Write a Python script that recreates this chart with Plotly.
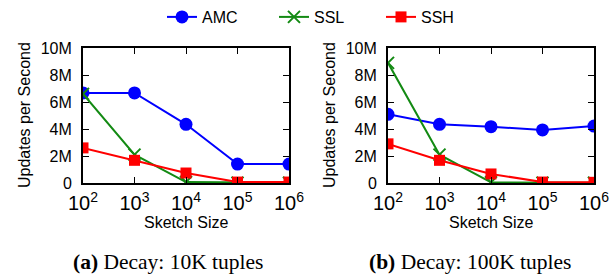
import plotly.graph_objects as go

sketch_sizes = [100, 1000, 10000, 100000, 1000000]
series_names = ["AMC", "SSL", "SSH"]
# values in millions of updates per second
amc_10k = [6.67, 6.67, 4.35, 1.40, 1.40]
ssl_10k = [6.6, 2.1, 0.07, 0.02, 0.02]
ssh_10k = [2.6, 1.68, 0.74, 0.07, 0.07]
amc_100k = [5.09, 4.35, 4.17, 3.93, 4.22]
ssl_100k = [8.9, 2.1, 0.05, 0.02, 0.02]
ssh_100k = [2.9, 1.68, 0.67, 0.07, 0.05]
ytick_vals = [0, 2, 4, 6, 8, 10]
ytick_text = ["0", "2M", "4M", "6M", "8M", "10M"]
x_title = "Sketch Size"
y_title = "Updates per Second"
captions = ["<b>(a)</b> Decay: 10K tuples", "<b>(b)</b> Decay: 100K tuples"]

colors = {"AMC": "#0000ff", "SSL": "#138a13", "SSH": "#ff0000"}
markers = {"AMC": dict(symbol="circle", size=13),
           "SSL": dict(symbol="x-thin", size=12),
           "SSH": dict(symbol="square", size=11)}
legend_ids = {"AMC": "legend", "SSL": "legend2", "SSH": "legend3"}
legend_left_px = {"AMC": 162, "SSL": 274, "SSH": 381}

SANS = "Liberation Sans"
FS = 16

fig = go.Figure()
panels = [(dict(AMC=amc_10k, SSL=ssl_10k, SSH=ssh_10k), "x", "y"),
          (dict(AMC=amc_100k, SSL=ssl_100k, SSH=ssh_100k), "x2", "y2")]
for i, (data, xa, ya) in enumerate(panels):
    for name in series_names:
        m = dict(markers[name])
        m["color"] = colors[name]
        if name == "SSL":
            m["line"] = dict(width=2, color=colors[name])
        fig.add_trace(go.Scatter(
            x=sketch_sizes, y=data[name], name=name, mode="lines+markers",
            line=dict(color=colors[name], width=2), marker=m,
            xaxis=xa, yaxis=ya, showlegend=(i == 0), legend=legend_ids[name]))

W, H = 610, 278
def px_x(p): return p / W
def px_y(p): return (H - p) / H

axis_common = dict(showline=True, linecolor="black", linewidth=2, mirror="ticks",
                   ticks="inside", ticklen=6, tickcolor="black", tickwidth=1,
                   showgrid=False, zeroline=False, automargin=False,
                   tickfont=dict(family=SANS, size=FS, color="black"))

panel_px = [(83, 289), (388, 594)]
for i, (l, r) in enumerate(panel_px):
    sfx = "" if i == 0 else "2"
    fig.layout["xaxis" + sfx] = dict(
        type="log", range=[2, 6], dtick=1, exponentformat="power",
        domain=[px_x(l), px_x(r)], anchor="y" + sfx, ticklabelstandoff=2,
        **axis_common)
    fig.layout["yaxis" + sfx] = dict(
        range=[0, 10], tickvals=ytick_vals, ticktext=ytick_text,
        domain=[px_y(183), px_y(48)], anchor="x" + sfx, ticklabelstandoff=6,
        **axis_common)
    # axis titles
    fig.add_annotation(x=px_x((l + r) / 2), y=px_y(222), xref="paper", yref="paper",
                       text=x_title, showarrow=False, xanchor="center", yanchor="middle",
                       font=dict(family=SANS, size=FS, color="black"))
    fig.add_annotation(x=px_x(l - 59), y=px_y(115), xref="paper", yref="paper",
                       text=y_title, showarrow=False, textangle=-90, xanchor="center", yanchor="middle",
                       font=dict(family=SANS, size=FS, color="black"))

cap_centers = [168, 470]
for c, t in zip(cap_centers, captions):
    fig.add_annotation(x=px_x(c), y=px_y(262), xref="paper", yref="paper", text=t,
                       showarrow=False, xanchor="center", yanchor="middle",
                       font=dict(family="Liberation Serif", size=21.5, color="black"))

fig.update_layout(
    width=W, height=H, margin=dict(l=0, r=0, t=0, b=0),
    paper_bgcolor="white", plot_bgcolor="white",
)
for name in series_names:
    fig.layout[legend_ids[name]] = dict(
        orientation="h", x=px_x(legend_left_px[name]), xanchor="left", y=1, yanchor="top",
        font=dict(family=SANS, size=FS, color="black"), itemwidth=30,
        bgcolor="rgba(0,0,0,0)")

fig.write_html("out.html", config={"displayModeBar": False},
               post_script="document.body.style.margin='0';document.body.style.overflow='hidden';")
